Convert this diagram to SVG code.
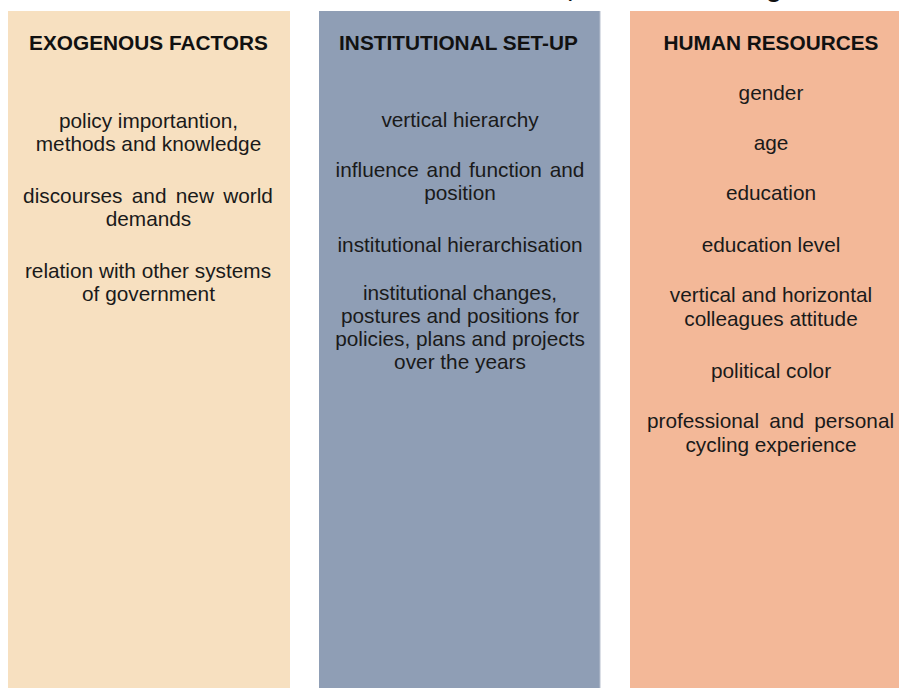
<svg xmlns="http://www.w3.org/2000/svg" width="899" height="688" viewBox="0 0 899 688">
  <style>
    .hdr { font-family: "Liberation Sans", Arial, sans-serif; font-size: 20.8px; font-weight: bold; fill: #111; text-anchor: middle; }
    .txt { font-family: "Liberation Sans", Arial, sans-serif; font-size: 20.8px; fill: #1a1a1a; text-anchor: middle; }
    .frag { font-family: "Liberation Sans", Arial, sans-serif; font-size: 26px; font-weight: bold; fill: #111; }
  </style>
  <rect width="899" height="688" fill="#ffffff"/>
  <g id="title-fragment">
    <text class="frag" x="567" y="-3">,</text>
    <text class="frag" x="766" y="-3">g</text>
  </g>
  <g id="exogenous-factors">
    <rect x="8" y="11" width="282" height="677" fill="#F7E0C0"/>
    <text class="hdr" x="148.5" y="50">EXOGENOUS FACTORS</text>
    <text class="txt" x="148.5" y="128">policy importantion,</text>
    <text class="txt" x="148.5" y="151">methods and knowledge</text>
    <text class="txt" x="148" y="203" word-spacing="3.5">discourses and new world</text>
    <text class="txt" x="148.5" y="226">demands</text>
    <text class="txt" x="148" y="278">relation with other systems</text>
    <text class="txt" x="148.5" y="301">of government</text>
  </g>
  <g id="institutional-set-up">
    <rect x="319" y="11" width="281" height="677" fill="#8F9EB5"/>
    <line x1="600" y1="11" x2="600" y2="688" stroke="#B7C0CE" stroke-width="1"/>
    <text class="hdr" x="458.5" y="50">INSTITUTIONAL SET-UP</text>
    <text class="txt" x="460" y="127">vertical hierarchy</text>
    <text class="txt" x="460" y="177" word-spacing="2">influence and function and</text>
    <text class="txt" x="460" y="200">position</text>
    <text class="txt" x="460" y="252">institutional hierarchisation</text>
    <text class="txt" x="460" y="300">institutional changes,</text>
    <text class="txt" x="460" y="323">postures and positions for</text>
    <text class="txt" x="460" y="346">policies, plans and projects</text>
    <text class="txt" x="460" y="369">over the years</text>
  </g>
  <g id="human-resources">
    <rect x="630" y="11" width="269" height="677" fill="#F3B898"/>
    <text class="hdr" x="771" y="50">HUMAN RESOURCES</text>
    <text class="txt" x="771" y="100">gender</text>
    <text class="txt" x="771" y="150">age</text>
    <text class="txt" x="771" y="200">education</text>
    <text class="txt" x="771" y="252">education level</text>
    <text class="txt" x="771" y="302">vertical and horizontal</text>
    <text class="txt" x="771" y="326">colleagues attitude</text>
    <text class="txt" x="771" y="378">political color</text>
    <text class="txt" x="770.5" y="428" word-spacing="4.5">professional and personal</text>
    <text class="txt" x="771" y="452">cycling experience</text>
  </g>
  <g id="connectors"/>
</svg>
